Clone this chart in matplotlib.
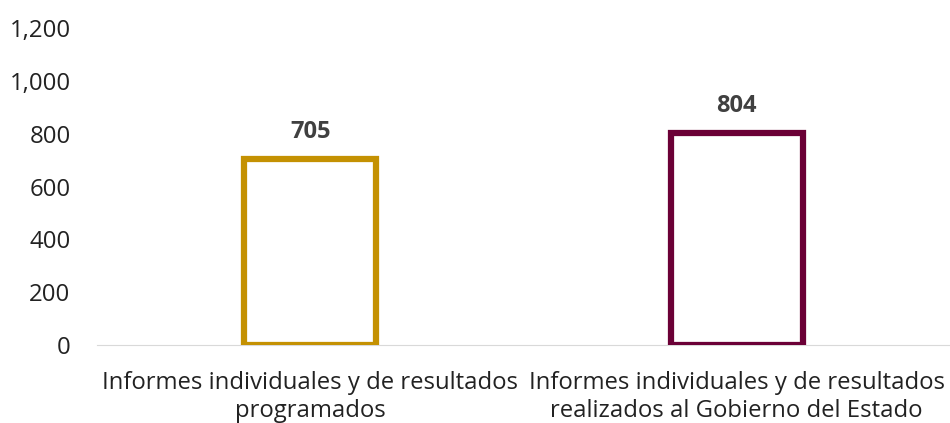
import matplotlib
matplotlib.use("Agg")
import matplotlib.pyplot as plt

categories = ["Informes individuales y de resultados\nprogramados",
              "Informes individuales y de resultados\nrealizados al Gobierno del Estado"]
values = [705, 804]
colors = ["#C49102", "#6B0036"]
yticks = [0, 200, 400, 600, 800, 1000, 1200]

plt.rcParams['font.family'] = ['Open Sans', 'DejaVu Sans']

fig = plt.figure(figsize=(9.5, 4.23), dpi=100)
ax = fig.add_axes([97/950, 1 - 345/423, 853/950, 317/423])

x = range(len(categories))
ax.bar(x, values, width=0.31, facecolor="white", edgecolor=colors, linewidth=4.5)
for i, v in enumerate(values):
    ax.text(i, v + 55, f"{v}", ha="center", va="bottom", fontsize=17,
            fontweight="bold", color="#404040")

ax.set_xlim(-0.5, 1.5)
ax.set_ylim(0, 1200)
ax.set_yticks(yticks)
ax.set_yticklabels([f"{t:,}" for t in yticks], fontsize=17.3, color="#222222")
ax.set_xticks(list(x))
ax.set_xticklabels(categories, fontsize=17.2, color="#222222", linespacing=1.2)
ax.tick_params(length=0)
ax.tick_params(axis="y", pad=19)
ax.tick_params(axis="x", pad=19)
for s in ["top", "right", "left"]:
    ax.spines[s].set_visible(False)
ax.spines["bottom"].set_color("#D9D9D9")
ax.spines["bottom"].set_zorder(0)

fig.savefig("out.png", dpi=100)
